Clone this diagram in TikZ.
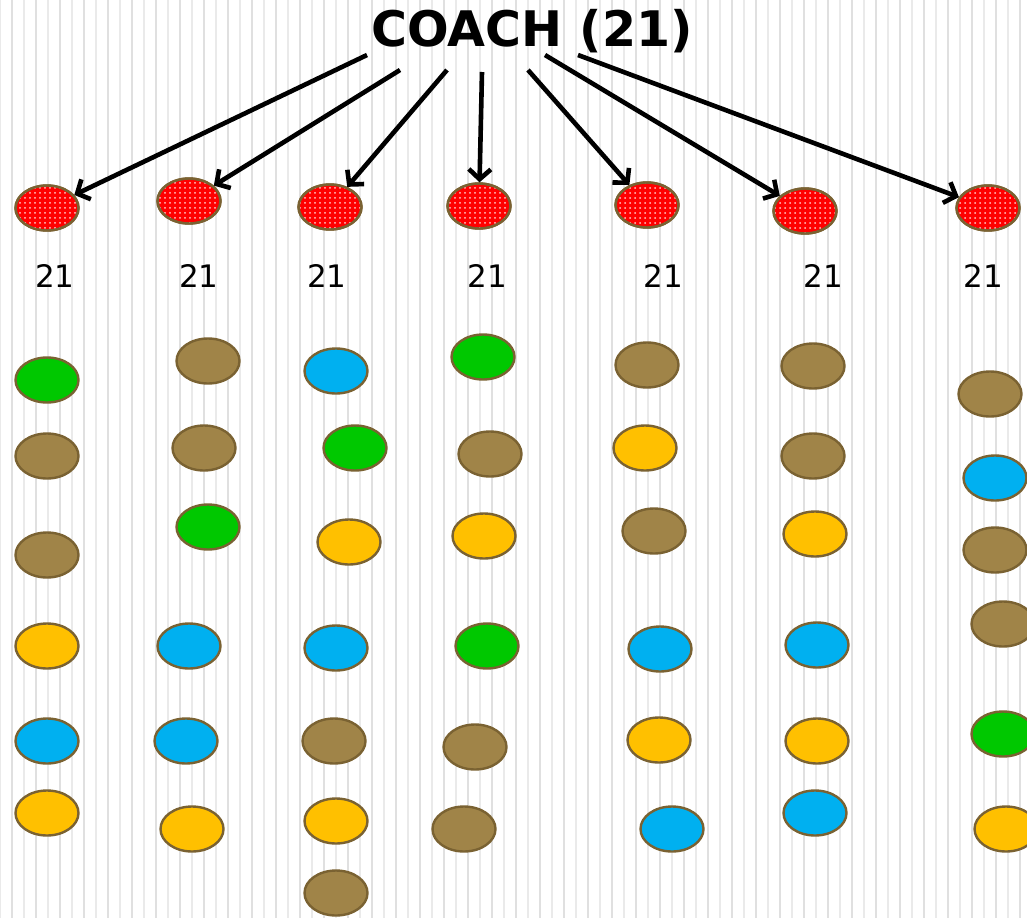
\documentclass[tikz,border=0pt]{standalone}
\usepackage{fontspec}
\setmainfont{DejaVu Sans}
\usetikzlibrary{arrows.meta,shapes.geometric,patterns.meta}
\definecolor{tmEdge}{HTML}{7A6232}
\definecolor{tmRed}{HTML}{FF0000}
\definecolor{tmDot}{HTML}{FFC8C8}
\definecolor{tmGreen}{HTML}{00C800}
\definecolor{tmBrown}{HTML}{A08448}
\definecolor{tmBlue}{HTML}{00B0F0}
\definecolor{tmGold}{HTML}{FFC000}
\definecolor{tmStripe}{HTML}{E0E0E0}
\definecolor{tmStripeLt}{HTML}{EAEAEA}
\tikzset{
  ball/.style={ellipse, draw=tmEdge, line width=2.4pt, minimum width=63pt, minimum height=45pt, inner sep=0pt},
  bRed/.style={ball, fill=tmRed, postaction={pattern={Dots[distance=5pt,radius=1pt]}, pattern color=tmDot}, postaction={draw=tmEdge, line width=2.4pt}},
  bGreen/.style={ball, fill=tmGreen},
  bBrown/.style={ball, fill=tmBrown},
  bBlue/.style={ball, fill=tmBlue},
  bGold/.style={ball, fill=tmGold},
  num/.style={font=\fontsize{31}{31}\selectfont, anchor=base, inner sep=0pt},
  arr/.style={-{Straight Barb[length=10pt,width=22pt]}, line width=4.6pt, draw=black},
}

\begin{document}
\begin{tikzpicture}[x=1pt, y=-1pt]
  \useasboundingbox (0,0) rectangle (1027,918);
  \clip (0,0) rectangle (1027,918);
  \fill[white] (0,0) rectangle (1027,918);
  % striped backdrop
  \foreach \s in {0,24,...,1032} {
    \draw[tmStripeLt, line width=1.4pt] (\s,0) -- (\s,918);
    \draw[tmStripe, line width=2.6pt] (\s+12,0) -- (\s+12,918);
  }

  \node[font=\fontsize{49}{49}\selectfont\bfseries, anchor=base, inner sep=0pt] (coach) at (532,46) {COACH (21)};

  % first row
  \node[bRed] (r1) at (47,208) {};
  \node[bRed] (r2) at (189,201) {};
  \node[bRed] (r3) at (330,207) {};
  \node[bRed] (r4) at (479,206) {};
  \node[bRed] (r5) at (647,205) {};
  \node[bRed] (r6) at (805,211) {};
  \node[bRed] (r7) at (988,208) {};

  \node[num] (n1) at (55,287) {21};
  \node[num] (n2) at (199,287) {21};
  \node[num] (n3) at (327,287) {21};
  \node[num] (n4) at (487,287) {21};
  \node[num] (n5) at (663,287) {21};
  \node[num] (n6) at (823,287) {21};
  \node[num] (n7) at (983,287) {21};

  \draw[arr] ([shift={(-165,9)}]coach.base) -- (r1);
  \draw[arr] ([shift={(-132,24)}]coach.base) -- (r2);
  \draw[arr] ([shift={(-85,24)}]coach.base) -- (r3);
  \draw[arr] ([shift={(-50,26)}]coach.base) -- (r4);
  \draw[arr] ([shift={(-4,24)}]coach.base) -- (r5);
  \draw[arr] ([shift={(13,9)}]coach.base) -- (r6);
  \draw[arr] ([shift={(46,9)}]coach.base) -- (r7);

  % column 1
  \node[bGreen] (a1) at (47,380) {};
  \node[bBrown] (a2) at (47,456) {};
  \node[bBrown] (a3) at (47,555) {};
  \node[bGold] (a4) at (47,646) {};
  \node[bBlue] (a5) at (47,741) {};
  \node[bGold] (a6) at (47,813) {};
  % column 2
  \node[bBrown] (b1) at (208,361) {};
  \node[bBrown] (b2) at (204,448) {};
  \node[bGreen] (b3) at (208,527) {};
  \node[bBlue] (b4) at (189,646) {};
  \node[bBlue] (b5) at (186,741) {};
  \node[bGold] (b6) at (192,829) {};
  % column 3
  \node[bBlue] (c1) at (336,371) {};
  \node[bGreen] (c2) at (355,448) {};
  \node[bGold] (c3) at (349,542) {};
  \node[bBlue] (c4) at (336,648) {};
  \node[bBrown] (c5) at (334,741) {};
  \node[bGold] (c6) at (336,821) {};
  \node[bBrown] (c7) at (336,893) {};
  % column 4
  \node[bGreen] (d1) at (483,357) {};
  \node[bBrown] (d2) at (490,454) {};
  \node[bGold] (d3) at (484,536) {};
  \node[bGreen] (d4) at (487,646) {};
  \node[bBrown] (d5) at (475,747) {};
  \node[bBrown] (d6) at (464,829) {};
  % column 5
  \node[bBrown] (e1) at (647,365) {};
  \node[bGold] (e2) at (645,448) {};
  \node[bBrown] (e3) at (654,531) {};
  \node[bBlue] (e4) at (660,649) {};
  \node[bGold] (e5) at (659,740) {};
  \node[bBlue] (e6) at (672,829) {};
  % column 6
  \node[bBrown] (f1) at (813,366) {};
  \node[bBrown] (f2) at (813,456) {};
  \node[bGold] (f3) at (815,534) {};
  \node[bBlue] (f4) at (817,645) {};
  \node[bGold] (f5) at (817,741) {};
  \node[bBlue] (f6) at (815,813) {};
  % column 7
  \node[bBrown] (g1) at (990,394) {};
  \node[bBlue] (g2) at (995,478) {};
  \node[bBrown] (g3) at (995,550) {};
  \node[bBrown] (g4) at (1003,624) {};
  \node[bGreen] (g5) at (1003,734) {};
  \node[bGold] (g6) at (1006,829) {};
\end{tikzpicture}
\end{document}
